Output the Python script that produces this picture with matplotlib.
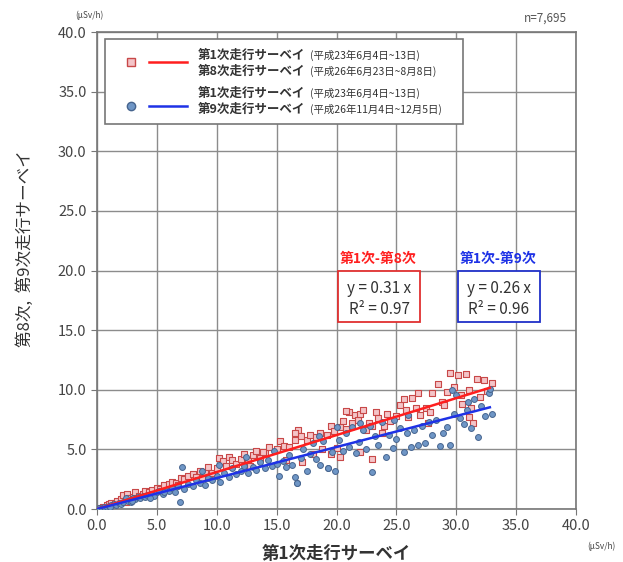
import numpy as np
import matplotlib.pyplot as plt
from matplotlib.patches import Rectangle
from matplotlib.lines import Line2D

plt.rcParams['font.family'] = ['Noto Sans CJK JP', 'DejaVu Sans']

# first survey vs 8th survey (red squares)
x8 = [0.3, 0.5, 0.8, 1.0, 1.2, 1.5, 1.7, 2.0, 2.2, 2.5, 2.7, 3.0, 3.2, 3.5, 3.8, 4.0, 4.3, 4.6, 5.0, 5.3,
      5.6, 6.0, 6.3, 6.6, 7.0, 7.3, 7.6, 8.0, 8.3, 8.6, 9.0, 9.3, 9.6, 10.0, 10.2, 10.5, 10.8, 11.0, 11.3, 11.6,
      12.0, 12.3, 12.6, 13.0, 13.3, 13.6, 14.0, 14.4, 15.0, 15.3, 15.6, 16.0, 16.5, 16.8, 17.0, 17.5, 17.8, 18.0,
      18.3, 18.6, 18.8, 19.2, 19.5, 19.8, 20.0, 20.3, 20.5, 20.8, 21.0, 21.3, 21.5, 21.8, 22.0, 22.2, 22.5, 22.7,
      23.0, 23.3, 23.5, 23.8, 24.2, 24.5, 25.0, 25.3, 25.6, 25.8, 26.0, 26.3, 26.6, 27.0, 27.5, 28.0, 28.5, 28.8,
      29.2, 29.5, 29.8, 30.1, 30.4, 30.8, 31.1, 31.4, 31.7, 32.0, 32.3, 32.6, 33.0, 30.5, 31.2, 29.0, 24.0, 22.0,
      19.5, 15.8, 13.9, 12.8, 27.8, 26.8, 23.0, 20.3, 17.1, 16.5, 20.8, 31.1, 27.6, 2.4, 4.8, 6.8, 8.8]
y8 = [0.1, 0.2, 0.3, 0.4, 0.5, 0.5, 0.7, 0.8, 1.2, 1.3, 0.9, 1.0, 1.4, 1.1, 1.3, 1.5, 1.4, 1.6, 1.8, 1.7,
      2.0, 2.1, 2.3, 2.2, 2.6, 2.5, 2.8, 2.9, 2.7, 3.2, 3.1, 3.5, 3.0, 3.4, 4.3, 4.0, 3.6, 4.4, 4.1, 3.8,
      4.2, 4.6, 4.1, 4.5, 4.9, 4.3, 4.7, 5.2, 5.0, 5.7, 5.3, 5.2, 5.8, 6.6, 6.1, 5.8, 6.2, 4.6,
      6.0, 6.4, 5.0, 6.2, 7.0, 6.5, 5.1, 6.9, 7.4, 6.7, 8.1, 7.2, 7.9, 7.5, 8.0, 8.3, 6.6, 7.2,
      7.0, 8.1, 7.6, 6.4, 8.0, 7.4, 7.8, 8.7, 9.2, 8.3, 7.7, 9.3, 8.5, 7.9, 8.5, 9.7, 10.5, 9.0,
      9.8, 11.4, 10.2, 11.2, 9.6, 11.3, 10.0, 7.2, 10.9, 9.4, 10.8, 9.9, 10.6, 8.8, 8.5, 8.7, 7.0, 4.8,
      4.6, 4.1, 4.8, 3.6, 8.1, 9.7, 4.2, 4.4, 3.9, 6.4, 8.2, 7.7, 7.2, 0.6, 1.3, 2.0, 2.6]

# first survey vs 9th survey (blue circles)
x9 = [0.2, 0.4, 0.6, 0.8, 1.0, 1.2, 1.4, 1.6, 1.8, 2.0, 2.2, 2.4, 2.6, 2.8, 3.0, 3.2, 3.4, 3.6, 3.8, 4.0,
      4.2, 4.5, 4.8, 5.0, 5.2, 5.5, 5.8, 6.0, 6.3, 6.5, 6.8, 6.9, 7.1, 7.3, 7.6, 8.0, 8.3, 8.6, 9.0, 9.3,
      9.6, 10.0, 10.3, 10.6, 11.0, 11.3, 11.6, 12.0, 12.3, 12.6, 13.0, 13.3, 13.6, 14.0, 14.3, 14.6, 15.0, 15.2,
      15.5, 15.8, 16.0, 16.3, 16.5, 16.7, 17.0, 17.2, 17.5, 17.8, 18.0, 18.3, 18.6, 18.9, 19.3, 19.6, 19.9, 20.2,
      20.5, 20.8, 21.0, 21.3, 21.6, 21.9, 22.2, 22.5, 22.8, 23.0, 23.2, 23.5, 23.8, 24.1, 24.4, 24.7, 25.0, 25.3,
      25.6, 25.9, 26.2, 26.5, 26.8, 27.1, 27.4, 27.7, 28.0, 28.3, 28.6, 28.9, 29.2, 29.5, 29.8, 30.0, 30.3, 30.6,
      30.9, 31.2, 31.5, 31.8, 32.1, 32.4, 32.7, 33.0, 29.6, 31.0, 32.8, 18.5, 20.0, 22.0, 24.8, 26.0, 14.8, 12.4,
      10.2, 8.8, 19.3, 16.7, 1.1, 2.9, 4.4, 5.6]
y9 = [0.05, 0.1, 0.15, 0.2, 0.25, 0.3, 0.4, 0.35, 0.5, 0.4, 0.6, 0.9, 0.7, 0.6, 0.9, 0.8, 1.0, 0.9, 1.1, 1.0,
      1.2, 1.3, 1.1, 1.4, 1.5, 1.3, 1.6, 1.5, 1.8, 1.4, 1.9, 0.6, 3.5, 1.7, 2.1, 1.9, 2.4, 2.2, 2.0, 2.6,
      2.4, 2.8, 2.3, 3.0, 2.7, 3.4, 2.9, 3.2, 3.6, 3.0, 3.5, 3.3, 3.9, 3.4, 4.1, 3.6, 3.8, 2.8,
      4.0, 3.5, 4.5, 3.7, 2.7, 2.2, 4.3, 5.0, 3.2, 4.6, 5.5, 4.2, 3.7, 5.7, 3.4, 4.8, 3.2, 5.8,
      4.9, 6.4, 5.2, 6.9, 4.7, 5.6, 6.6, 5.0, 7.0, 3.1, 6.1, 5.4, 7.3, 4.4, 6.2, 5.1, 5.9, 6.8,
      4.8, 6.4, 5.2, 6.6, 5.4, 7.0, 5.5, 7.3, 6.2, 7.5, 5.3, 6.4, 6.9, 5.4, 8.0, 9.6, 7.6, 7.1,
      8.3, 6.8, 9.2, 6.0, 8.6, 7.8, 9.7, 8.0, 10.0, 9.0, 10.1, 6.1, 6.9, 7.2, 7.5, 7.9, 4.9, 4.4,
      3.7, 3.2, 3.4, 2.2, 0.2, 0.7, 0.9, 1.4]

# regression slopes and fitted range
slope8, r2_8 = 0.31, 0.97
slope9, r2_9 = 0.26, 0.96
fit_x = np.array([0.0, 32.8])

fig = plt.figure(figsize=(6.23, 5.62), dpi=100)
ax = fig.add_axes([0.1557, 0.0943, 0.769, 0.8487])

ax.scatter(x8, y8, marker='s', s=16, facecolor='#f4c4c8', edgecolor='#c84848', linewidths=0.8, zorder=3)
ax.scatter(x9, y9, marker='o', s=18, facecolor='#6f96c6', edgecolor='#46648e', linewidths=0.7, zorder=3)
ax.plot(fit_x, slope8 * fit_x, color='#ff1e1e', lw=1.8, zorder=4)
ax.plot(fit_x, slope9 * fit_x, color='#1e32e6', lw=1.8, zorder=4)

ax.set_xlim(0, 40)
ax.set_ylim(0, 40)
ticks = np.arange(0, 45, 5)
ax.set_xticks(ticks)
ax.set_yticks(ticks)
ax.set_xticklabels([f"{t:.1f}" for t in ticks], color='#444444', fontsize=10.5)
ax.set_yticklabels([f"{t:.1f}" for t in ticks], color='#444444', fontsize=10.5)
ax.tick_params(length=4, color='#777777')
ax.grid(True, color='#8c8c8c', lw=1.0)
ax.set_axisbelow(True)
for sp in ax.spines.values():
    sp.set_color('#777777')
    sp.set_linewidth(1.2)

ax.set_xlabel("第1次走行サーベイ", fontsize=12.5, fontweight='bold', color='#333333')
ax.xaxis.set_label_coords(0.5, -0.075)
ax.set_ylabel("第8次,  第9次走行サーベイ", fontsize=12, color='#333333')
ax.yaxis.set_label_coords(-0.132, 0.545)

fig.text(0.12, 0.972, "(μSv/h)", fontsize=6, color='#444444', ha='left', va='center')
fig.text(0.965, 0.028, "(μSv/h)", fontsize=6, color='#444444', ha='center', va='center')
fig.text(0.875, 0.968, "n=7,695", fontsize=8.5, color='#555555', ha='center', va='center')

# legend box
ax.add_patch(Rectangle((0.017, 0.807), 0.747, 0.178, transform=ax.transAxes, facecolor='white',
                       edgecolor='#777777', lw=1.2, zorder=5))
ax.add_line(Line2D([0.072], [0.938], transform=ax.transAxes, marker='s', ms=6,
                   markerfacecolor='#f4c4c8', markeredgecolor='#c84848', ls='none', zorder=6))
ax.add_line(Line2D([0.108, 0.188], [0.938, 0.938], transform=ax.transAxes, color='#ff1e1e', lw=1.8, zorder=6))
ax.add_line(Line2D([0.072], [0.845], transform=ax.transAxes, marker='o', ms=6,
                   markerfacecolor='#6f96c6', markeredgecolor='#46648e', ls='none', zorder=6))
ax.add_line(Line2D([0.108, 0.188], [0.845, 0.845], transform=ax.transAxes, color='#1e32e6', lw=1.8, zorder=6))

leg_rows = [
    (0.952, "第1次走行サーベイ", "(平成23年6月4日~13日)"),
    (0.918, "第8次走行サーベイ", "(平成26年6月23日~8月8日)"),
    (0.872, "第1次走行サーベイ", "(平成23年6月4日~13日)"),
    (0.838, "第9次走行サーベイ", "(平成26年11月4日~12月5日)"),
]
for yy, main, sub in leg_rows:
    t = ax.text(0.211, yy, main, transform=ax.transAxes, fontsize=9, fontweight='bold',
                color='#333333', va='center', ha='left', zorder=7)
    ax.annotate(sub, xycoords=t, xy=(1, 0.5), xytext=(3, 0), textcoords='offset points',
                fontsize=7.5, color='#333333', va='center', ha='left', zorder=7)

# regression annotation boxes
ax.text(23.5, 21.0, "第1次-第8次", fontsize=10, fontweight='bold', color='#ff2020', ha='center', va='center')
ax.add_patch(Rectangle((20.1, 15.7), 6.9, 4.3, facecolor='white', edgecolor='#e03030', lw=1.3, zorder=5))
ax.text(23.55, 18.5, f"y = {slope8:.2f} x", fontsize=11, color='#333333', ha='center', va='center', zorder=6)
ax.text(23.55, 16.75, f"R² = {r2_8:.2f}", fontsize=11, color='#333333', ha='center', va='center', zorder=6)

ax.text(33.5, 21.0, "第1次-第9次", fontsize=10, fontweight='bold', color='#1e32e6', ha='center', va='center')
ax.add_patch(Rectangle((30.1, 15.7), 6.9, 4.3, facecolor='white', edgecolor='#2030c8', lw=1.3, zorder=5))
ax.text(33.55, 18.5, f"y = {slope9:.2f} x", fontsize=11, color='#333333', ha='center', va='center', zorder=6)
ax.text(33.55, 16.75, f"R² = {r2_9:.2f}", fontsize=11, color='#333333', ha='center', va='center', zorder=6)

fig.savefig("out.png", dpi=100)
